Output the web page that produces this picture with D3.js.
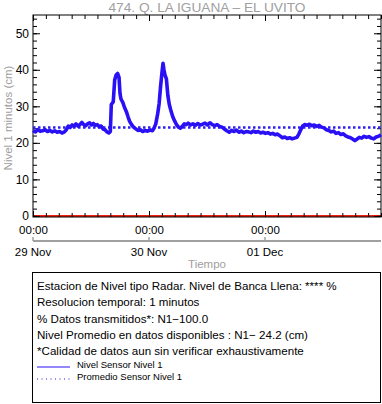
<!DOCTYPE html>
<html>
<head>
<meta charset="utf-8">
<script src="https://cdn.jsdelivr.net/npm/d3@7"></script>
<style>
  body { margin: 0; background: #fff; }
  svg { display: block; font-family: "Liberation Sans", Arial, sans-serif; }
  .axis path { display: none; }
  .axis line { stroke: #000; }
</style>
</head>
<body>
<svg width="382" height="404"></svg>
<script>
// hours since 29 Nov 00:00 and level (cm)
const hours = [0, 0.5, 1, 1.5, 2, 2.5, 3, 3.5, 4, 4.5, 5, 5.5, 6, 6.5, 6.9, 7.3, 7.7, 8.1, 8.5, 8.9,
  9.3, 9.7, 10.1, 10.5, 10.9, 11.3, 11.7, 12.1, 12.5, 12.9, 13.3, 13.7, 14.1, 14.5, 14.9, 15.3, 15.7, 16.0,
  16.2, 16.6, 16.9, 17.2, 17.5, 17.8, 18.0, 18.2, 18.6, 18.9, 19.3, 19.7, 20.0, 20.4, 20.8, 21.2, 21.7,
  22.2, 22.7, 23.2, 23.7, 24.2, 24.7, 25.0, 25.4, 25.8, 26.1, 26.4, 26.7, 26.9, 27.1, 27.3, 27.6, 27.9,
  28.2, 28.5, 28.9, 29.3, 29.7, 30.1, 30.5, 30.9, 31.3, 31.7, 32.1, 32.6, 33.1, 33.6, 34.1, 34.6, 35.1,
  35.6, 36.1, 36.6, 37.1, 37.6, 38.1, 38.6, 39.1, 39.6, 40.1, 40.6, 41.1, 41.6, 42.1, 42.6, 43.1, 43.6,
  44.1, 44.6, 45.1, 45.6, 46.1, 46.6, 47.1, 47.6, 48.1, 48.6, 49.1, 49.6, 50.1, 50.6, 51.1, 51.6, 52.1,
  52.6, 53.1, 53.6, 54.1, 54.6, 55.0, 55.4, 55.8, 56.2, 56.7, 57.2, 57.7, 58.2, 58.7, 59.2, 59.7, 60.2,
  60.7, 61.2, 61.7, 62.2, 62.7, 63.2, 63.7, 64.2, 64.7, 65.2, 65.7, 66.2, 66.6, 67.0, 67.5, 68.0, 68.5,
  69.0, 69.5, 70.0, 70.5, 71.0, 71.5, 72.0];
const level = [23.4, 23.0, 23.6, 23.2, 23.3, 23.6, 23.1, 23.4, 23.0, 23.3, 22.9, 23.1, 22.7, 23.0, 23.6, 24.6, 24.2, 24.9, 24.5, 25.2,
  24.6, 25.0, 25.6, 25.0, 24.7, 25.2, 25.5, 24.9, 25.3, 24.8, 25.0, 24.4, 24.6, 23.8, 23.6, 23.0, 22.7, 23.1,
  30.5, 31.2, 37.2, 38.6, 39.0, 37.9, 33.5, 32.0, 31.0, 29.8, 28.6, 27.0, 25.9, 25.0, 24.3, 23.9, 23.4,
  23.6, 23.1, 23.4, 23.2, 23.5, 23.3, 23.9, 25.2, 28.0, 30.8, 35.5, 39.5, 41.8, 40.0, 38.6, 37.5, 33.0,
  30.5, 29.0, 27.2, 26.0, 25.0, 24.3, 24.0, 24.5, 25.2, 25.0, 25.4, 24.9, 25.2, 24.8, 25.3, 24.9, 25.1,
  25.4, 24.9, 25.5, 25.0, 24.7, 25.0, 24.5, 24.3, 23.8, 23.3, 22.9, 23.4, 23.1, 23.5, 22.9, 23.2, 22.8,
  23.1, 23.0, 22.8, 23.2, 22.9, 23.1, 22.7, 22.9, 22.6, 22.8, 22.4, 22.6, 22.2, 22.4, 21.9, 21.4, 21.6,
  21.2, 21.4, 21.1, 21.3, 21.5, 22.4, 23.6, 24.6, 25.0, 24.8, 25.1, 24.7, 24.9, 24.5, 24.8, 24.3, 24.1,
  23.6, 23.4, 23.0, 23.2, 22.6, 22.8, 22.3, 22.5, 21.9, 21.6, 21.4, 21.0, 20.6, 21.0, 21.5, 21.3, 21.8,
  21.5, 21.7, 21.3, 21.1, 21.6, 21.8, 22.2];
const meanLevel = 24.2;
const yTicks = [0, 10, 20, 30, 40, 50];
const dayLabels = ["29 Nov", "30 Nov", "01 Dec"];

const infoLines = [
  "Estacion de Nivel tipo Radar. Nivel de Banca Llena: **** %",
  "Resolucion temporal: 1 minutos",
  "% Datos transmitidos*: N1\u2212100.0",
  "Nivel Promedio en datos disponibles : N1\u2212 24.2 (cm)",
  "*Calidad de datos aun sin verificar exhaustivamente"
];
const legendItems = ["Nivel Sensor Nivel 1", "Promedio Sensor Nivel 1"];

const svg = d3.select("svg");
const plotL = 33, plotR = 381, plotT = 15, plotB = 217;
const start = Date.UTC(2023, 10, 29);
const hourMs = 3600000;

const x = d3.scaleUtc()
  .domain([new Date(start), new Date(start + 72 * hourMs)])
  .range([plotL, plotR]);
const y = d3.scaleLinear().domain([-0.3, 55]).range([plotB, plotT]);

const data = hours.map((h, i) => ({ t: new Date(start + h * hourMs), v: level[i] }));
const dayTicks = d3.range(0, 3).map(d => new Date(start + d * 24 * hourMs));
const minorX = d3.range(0, 28).map(i => new Date(start + i * 160 * 60000));
const minorY = d3.range(0, 55, 2);

// title
svg.append("text")
  .attr("x", (plotL + plotR) / 2).attr("y", 12)
  .attr("text-anchor", "middle")
  .attr("fill", "#a0a0a0")
  .style("font-size", "13.7px")
  .text("474. Q. LA IGUANA \u2013 EL UVITO");

// zero line
svg.append("line")
  .attr("x1", plotL).attr("x2", plotR)
  .attr("y1", y(0)).attr("y2", y(0))
  .attr("stroke", "#f02010").attr("stroke-width", 2);

// frame
svg.append("rect")
  .attr("x", plotL).attr("y", plotT)
  .attr("width", plotR - plotL).attr("height", plotB - plotT)
  .attr("fill", "none").attr("stroke", "#000");

// ticks (inward)
svg.append("g").attr("class", "axis")
  .attr("transform", `translate(0,${plotB})`)
  .call(d3.axisBottom(x).tickValues(minorX).tickSize(-4).tickFormat(""));
svg.append("g").attr("class", "axis")
  .attr("transform", `translate(0,${plotB})`)
  .call(d3.axisBottom(x).tickValues(dayTicks).tickSize(-6).tickPadding(9)
    .tickFormat(d3.utcFormat("%H:%M")))
  .selectAll("text").style("font-size", "11.5px").attr("fill", "#000");
svg.append("g").attr("class", "axis")
  .attr("transform", `translate(0,${plotT})`)
  .call(d3.axisTop(x).tickValues(minorX).tickSize(-4).tickFormat(""));
svg.append("g").attr("class", "axis")
  .attr("transform", `translate(0,${plotT})`)
  .call(d3.axisTop(x).tickValues(dayTicks).tickSize(-6).tickFormat(""));

svg.append("g").attr("class", "axis")
  .attr("transform", `translate(${plotL},0)`)
  .call(d3.axisLeft(y).tickValues(minorY).tickSize(-4).tickFormat(""));
svg.append("g").attr("class", "axis")
  .attr("transform", `translate(${plotL},0)`)
  .call(d3.axisLeft(y).tickValues(yTicks).tickSize(-7).tickPadding(4))
  .selectAll("text").style("font-size", "12px").attr("fill", "#000");
svg.append("g").attr("class", "axis")
  .attr("transform", `translate(${plotR},0)`)
  .call(d3.axisRight(y).tickValues(minorY).tickSize(-4).tickFormat(""));
svg.append("g").attr("class", "axis")
  .attr("transform", `translate(${plotR},0)`)
  .call(d3.axisRight(y).tickValues(yTicks).tickSize(-7).tickFormat(""));

// mean line
svg.append("line")
  .attr("x1", plotL).attr("x2", plotR)
  .attr("y1", y(meanLevel)).attr("y2", y(meanLevel))
  .attr("stroke", "#3020f0").attr("stroke-width", 2.5)
  .attr("stroke-dasharray", "2.5,2.5");

// level line
svg.append("path")
  .datum(data)
  .attr("fill", "none")
  .attr("stroke", "#2a10f5")
  .attr("stroke-width", 3.6)
  .attr("stroke-linejoin", "round")
  .attr("d", d3.line().x(d => x(d.t)).y(d => y(d.v)));

// date axis
const dateAxis = svg.append("g").attr("transform", "translate(0,241)");
dateAxis.append("line")
  .attr("x1", plotL).attr("x2", plotR)
  .attr("stroke", "#a0a0a0").attr("stroke-width", 2);
dateAxis.selectAll("line.tick")
  .data(dayTicks)
  .enter().append("line")
  .attr("class", "tick")
  .attr("x1", d => x(d)).attr("x2", d => x(d))
  .attr("y1", -4).attr("y2", 0)
  .attr("stroke", "#a0a0a0").attr("stroke-width", 1.5);
dateAxis.selectAll("text")
  .data(dayTicks)
  .enter().append("text")
  .attr("x", d => x(d)).attr("y", 15)
  .attr("text-anchor", "middle")
  .style("font-size", "11.5px")
  .text((d, i) => dayLabels[i]);

svg.append("text")
  .attr("x", (plotL + plotR) / 2).attr("y", 268)
  .attr("text-anchor", "middle")
  .attr("fill", "#a0a0a0")
  .style("font-size", "11.5px")
  .text("Tiempo");

svg.append("text")
  .attr("transform", "rotate(-90)")
  .attr("x", -(plotT + plotB) / 2 - 2)
  .attr("y", 12)
  .attr("text-anchor", "middle")
  .attr("fill", "#a0a0a0")
  .style("font-size", "11.5px")
  .text("Nivel 1 minutos (cm)");

// info box
svg.append("rect")
  .attr("x", 32.5).attr("y", 272.5)
  .attr("width", 348).attr("height", 130)
  .attr("fill", "none").attr("stroke", "#000");

svg.selectAll("text.info")
  .data(infoLines)
  .enter().append("text")
  .attr("class", "info")
  .attr("x", 37)
  .attr("y", (d, i) => 290 + i * 16.3)
  .style("font-size", "11.6px")
  .text(d => d);

const legend = svg.selectAll("g.legend")
  .data(legendItems)
  .enter().append("g")
  .attr("class", "legend")
  .attr("transform", (d, i) => `translate(37,${367 + i * 12})`);
legend.append("line")
  .attr("x1", 0).attr("x2", 33)
  .attr("stroke", "#2a10f5")
  .attr("stroke-width", 1)
  .attr("stroke-dasharray", (d, i) => i === 0 ? null : "1,3.5");
legend.append("text")
  .attr("x", 40).attr("y", 0)
  .attr("dy", "0.1em")
  .style("font-size", "9.5px")
  .text(d => d);
</script>
</body>
</html>
